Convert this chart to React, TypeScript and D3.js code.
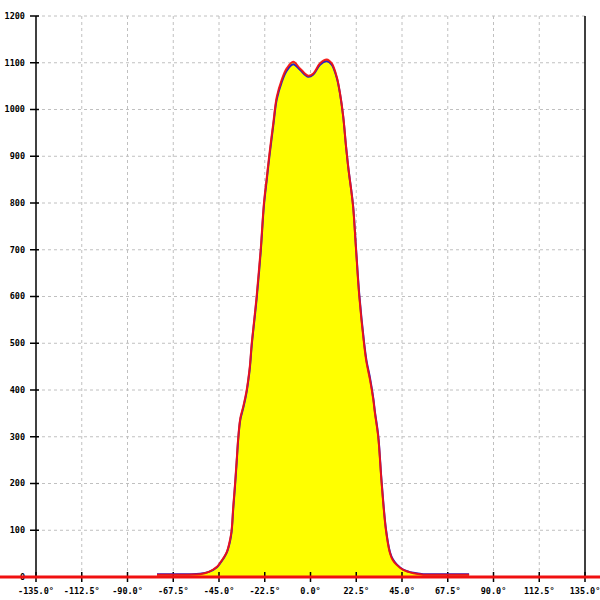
import React from "react";
import * as d3 from "d3";

const degrees = [-75.5, -60, -54.4, -50, -46, -44.5, -42.9, -41.2, -39.6, -38.8, -38, -37.1, -36.3, -35.5, -34.5, -33, -31.5, -30.6, -29.8, -28.9, -26.5, -24.5, -22.9, -21.5, -20.2, -18.3, -16.6, -14.2, -11.7, -8.5, -5.2, -1.1, 1.4, 4.7, 8, 10.4, 12.9, 14.5, 16.1, 17.5, 18.8, 20.0, 21.0, 22.4, 24, 26.3, 27.5, 29.3, 30.9, 31.7, 33.3, 35, 37.1, 39.1, 40.5, 42.4, 45.6, 50.6, 55.5, 65, 78];
const redValues = [5, 5, 6, 11, 22, 30, 40, 53, 79, 100, 150, 200, 250, 300, 340, 366, 397, 423, 452, 500, 600, 700, 800, 855, 905, 971, 1027, 1063, 1088, 1102, 1088, 1072, 1077, 1099, 1107, 1099, 1070, 1035, 985, 920, 868, 828, 790, 700, 600, 500, 460, 421, 379, 350, 300, 200, 100, 51, 36, 26, 15, 8, 5, 5, 5];
const blueValues = [6, 6, 7, 11, 21, 29, 39, 52, 76, 97, 146, 196, 246, 297, 337, 363, 394, 420, 448, 496, 595, 695, 795, 850, 900, 966, 1022, 1058, 1083, 1097, 1085, 1070, 1075, 1096, 1103, 1096, 1068, 1034, 984, 920, 868, 829, 792, 703, 604, 504, 464, 425, 382, 353, 303, 203, 103, 53, 38, 27, 16, 9, 6, 6, 6];
const xTicks = [-135, -112.5, -90, -67.5, -45, -22.5, 0, 22.5, 45, 67.5, 90, 112.5, 135];
const yTicks = [0, 100, 200, 300, 400, 500, 600, 700, 800, 900, 1000, 1100, 1200];

export default function App() {
  const W = 600, H = 600;
  const x = d3.scaleLinear().domain([-135, 135]).range([36, 585]);
  const y = d3.scaleLinear().domain([0, 1200]).range([577, 16]);
  const red = degrees.map((d, i) => [d, redValues[i]] as [number, number]);
  const blue = degrees.map((d, i) => [d, blueValues[i]] as [number, number]);
  const line = d3.line<[number, number]>().x(d => x(d[0])).y(d => y(d[1])).curve(d3.curveCatmullRom.alpha(0.5));
  const area = d3.area<[number, number]>().x(d => x(d[0])).y0(y(0)).y1(d => y(d[1])).curve(d3.curveCatmullRom.alpha(0.5));
  const font = "'DejaVu Sans Mono', monospace";
  return (
    <svg width={W} height={H} style={{ position: "absolute", left: 0, top: 0, background: "#fff" }}>
      {xTicks.slice(1, -1).map(t => (
        <line key={"gx" + t} x1={x(t)} x2={x(t)} y1={y(1200)} y2={y(0)} stroke="#c0c0c0" strokeDasharray="3,3" />
      ))}
      {yTicks.slice(1).map(t => (
        <line key={"gy" + t} x1={x(-135)} x2={x(135)} y1={y(t)} y2={y(t)} stroke="#c0c0c0" strokeDasharray="3,3" />
      ))}
      <path d={area(red) || ""} fill="#ffff00" />
      <line x1={x(-135)} x2={x(-135)} y1={y(1200)} y2={y(0)} stroke="#000" strokeWidth={1.5} />
      <line x1={x(135)} x2={x(135)} y1={y(1200)} y2={y(0)} stroke="#000" strokeWidth={1.5} />
      <line x1={x(-135)} x2={x(135)} y1={y(0)} y2={y(0)} stroke="#000" strokeWidth={1.5} />
      {yTicks.map(t => (
        <g key={"yt" + t}>
          <line x1={30} x2={39} y1={y(t)} y2={y(t)} stroke="#000" strokeWidth={1.5} />
          <text x={25} y={y(t)} dy="0.35em" textAnchor="end" fontFamily={font} fontSize={8.5} fontWeight="bold" fill="#000">{t}</text>
        </g>
      ))}
      {xTicks.map(t => (
        <g key={"xt" + t}>
          <line x1={x(t)} x2={x(t)} y1={572} y2={582} stroke="#000" strokeWidth={1.5} />
          <text x={x(t)} y={594} textAnchor="middle" fontFamily={font} fontSize={8.5} fontWeight="bold" fill="#000">{t.toFixed(1) + "°"}</text>
        </g>
      ))}
      <line x1={0} x2={W} y1={y(0)} y2={y(0)} stroke="#f01010" strokeWidth={3} />
      <path d={line(blue) || ""} fill="none" stroke="#2222cc" strokeWidth={2} />
      <path d={line(red) || ""} fill="none" stroke="#f41010" strokeWidth={2} strokeOpacity={0.93} />
    </svg>
  );
}
